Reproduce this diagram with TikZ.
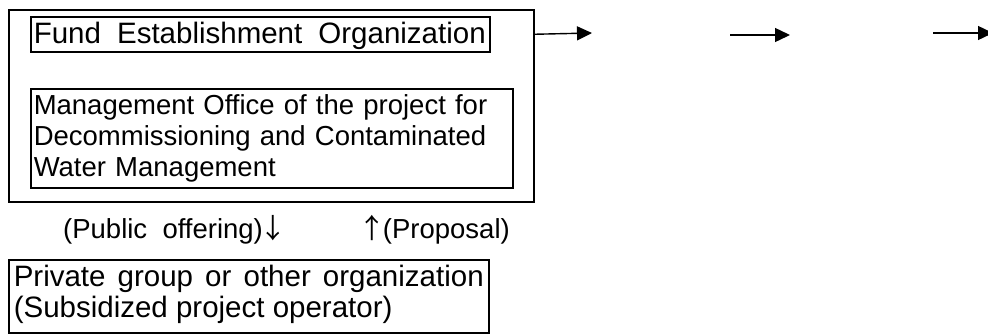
\documentclass[tikz,border=0pt]{standalone}
\usepackage{fontspec}
\setmainfont{Liberation Sans}
\newfontfamily\cjk{Noto Sans CJK JP}
\usetikzlibrary{arrows.meta}
\begin{document}
\begin{tikzpicture}[x=1pt,y=-1pt,
  frame/.style={draw=black, line width=1.5pt, rectangle, inner sep=0pt, anchor=north west},
  txt/.style={font=\fontsize{27.5}{31}\selectfont},
  bigtxt/.style={font=\fontsize{29.5}{31}\selectfont},
  arr/.style={line width=1.4pt, -{Triangle[length=15pt,width=14pt]}}]
\useasboundingbox (0,0) rectangle (988,333);
\node[frame, minimum width=525pt, minimum height=192pt] (outer) at (8,9) {};
\node[frame, bigtxt, minimum width=459pt, minimum height=35pt, text height=19pt, text depth=0pt] (fund) at (30,16)
  {\makebox[459pt][s]{\hspace{3pt}Fund Establishment Organization\hspace{4pt}}};
\node[frame, txt, minimum width=482pt, minimum height=99pt, text width=476pt, align=left, inner xsep=3pt] (office) at (30,88)
  {Management Office of the project for\\Decommissioning and Contaminated\\Water Management};
\node[txt, anchor=base west, inner sep=0pt] (pub) at (63,238) {(Public\ \ offering)\kern-3pt{\cjk ↓}};
\node[txt, anchor=base east, inner sep=0pt] (prop) at (510,238) {{\cjk ↑}\kern-3pt(Proposal)};
\node[frame, bigtxt, minimum width=480pt, minimum height=73pt, inner xsep=5pt] (priv) at (8,259)
  {\begin{tabular}{@{}l@{}}\makebox[470pt][s]{Private group or other organization}\\
   (Subsidized project operator)\end{tabular}};
\coordinate (a1e) at (592,33);
\coordinate (a2s) at (730,35);
\coordinate (a2e) at (790,35);
\coordinate (a3s) at (933,33);
\coordinate (a3e) at (993,33);
\draw[arr] (outer.east |- fund.center) -- (a1e);
\draw[arr] (a2s) -- (a2e);
\draw[arr] (a3s) -- (a3e);
\end{tikzpicture}
\end{document}
